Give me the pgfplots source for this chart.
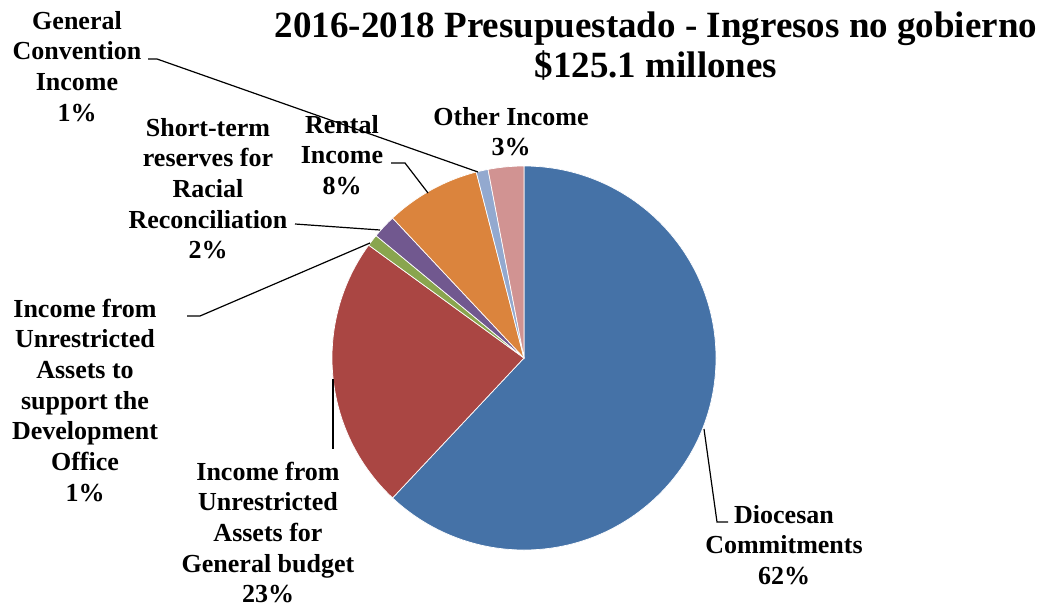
\documentclass[border=0pt]{standalone}
\usepackage{pgfplots}
\usepackage{pgfplotstable}
\pgfplotsset{compat=1.18}
\usepackage{fontspec}
\setmainfont{Liberation Serif}

\definecolor{cDio}{HTML}{4572A7}
\definecolor{cGen}{HTML}{AA4643}
\definecolor{cDev}{HTML}{89A54E}
\definecolor{cRac}{HTML}{71588F}
\definecolor{cRen}{HTML}{DB843D}
\definecolor{cGC}{HTML}{93A9CF}
\definecolor{cOth}{HTML}{D19392}

% shares in percent, clockwise from 12 o'clock
\pgfplotstableread{
value colour
62 cDio
23 cGen
1  cDev
2  cRac
8  cRen
1  cGC
3  cOth
}\piedata

\newcommand{\lbl}[1]{\begin{tabular}[t]{@{}c@{}}#1\end{tabular}}

\begin{document}
\begin{tikzpicture}
\path[use as bounding box] (0,0) rectangle (1047pt,608pt);
\begin{axis}[
  at={(0,0)}, anchor=south west,
  scale only axis,
  width=1047pt, height=608pt,
  xmin=0, xmax=1047, ymin=0, ymax=608,
  y dir=reverse,
  hide axis, clip=false,
]
  \gdef\angA{90}
  \pgfplotsforeachungrouped \i in {0,...,6} {
    \pgfplotstablegetelem{\i}{value}\of\piedata
    \let\v\pgfplotsretval
    \pgfplotstablegetelem{\i}{colour}\of\piedata
    \let\c\pgfplotsretval
    \pgfmathsetmacro\angB{\angA-3.6*\v}
    \edef\cmd{\noexpand\fill[\c, draw=white, line width=0.7pt]
      (axis cs:524,358) -- ++(\angA:192pt)
      arc[start angle=\angA, end angle=\angB, radius=192pt] -- cycle;}
    \cmd
    \xdef\angA{\angB}
  }

  % leader lines
  \begin{scope}[line width=1.2pt, black]
    \draw (axis cs:148,59) -- (axis cs:157,59) -- (axis cs:478,172);
    \draw (axis cs:391,163) -- (axis cs:405,163) -- (axis cs:428,193);
    \draw (axis cs:295,224) -- (axis cs:380,230);
    \draw (axis cs:187,316) -- (axis cs:200,316) -- (axis cs:370,243);
    \draw (axis cs:333,379) -- (axis cs:333,449);
    \draw (axis cs:704,429) -- (axis cs:717,522) -- (axis cs:728,522);
  \end{scope}

  % title
  \node[anchor=base, inner sep=0pt, font=\fontsize{37}{40}\selectfont\bfseries]
    at (axis cs:656,37) {2016-2018 Presupuestado - Ingresos no gobierno};
  \node[anchor=base, inner sep=0pt, font=\fontsize{37}{40}\selectfont\bfseries]
    at (axis cs:656,77) {\$125.1 millones};

  % slice labels
  \begin{scope}[every node/.style={anchor=base, inner sep=0pt,
      font=\fontsize{26}{30.7}\selectfont\bfseries}]
    \node at (axis cs:77,29)  {\lbl{General\\Convention\\Income\\1\%}};
    \node at (axis cs:208,136) {\lbl{Short-term\\reserves for\\Racial\\Reconciliation\\2\%}};
    \node at (axis cs:342,133) {\lbl{Rental\\Income\\8\%}};
    \node at (axis cs:511,125) {\lbl{Other Income\\3\%}};
    \node at (axis cs:85,317)  {\lbl{Income from\\Unrestricted\\Assets to\\support the\\Development\\Office\\1\%}};
    \node at (axis cs:268,480) {\lbl{Income from\\Unrestricted\\Assets for\\General budget\\23\%}};
    \node at (axis cs:784,523) {\lbl{Diocesan\\Commitments\\62\%}};
  \end{scope}
\end{axis}
\end{tikzpicture}
\end{document}
